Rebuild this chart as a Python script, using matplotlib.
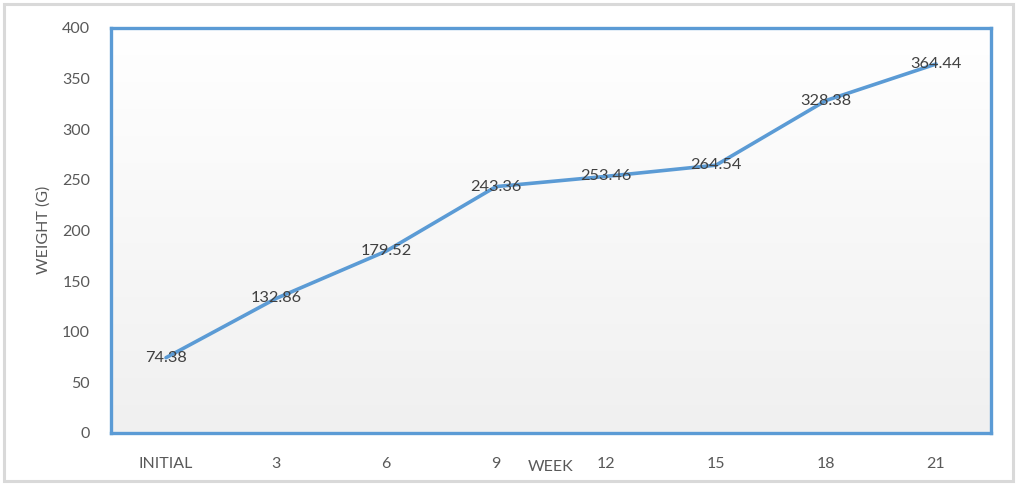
import matplotlib
matplotlib.use("Agg")
import matplotlib.pyplot as plt
import numpy as np
from matplotlib.patches import Rectangle

categories = ["INITIAL", "3", "6", "9", "12", "15", "18", "21"]
weights = [74.38, 132.86, 179.52, 243.36, 253.46, 264.54, 328.38, 364.44]
yticks = [0, 50, 100, 150, 200, 250, 300, 350, 400]

plt.rcParams['font.family'] = ['Lato', 'DejaVu Sans']
blue = "#5b9bd5"
txt = "#595959"

fig = plt.figure(figsize=(10.18, 4.84), dpi=100)
fig.patch.set_facecolor("white")
fig.patches.append(Rectangle((0.004, 0.006), 0.991, 0.986, transform=fig.transFigure,
                             fill=False, edgecolor="#d9d9d9", linewidth=2.2))

ax = fig.add_axes([111/1018, 51/484, 880/1018, 405/484])
x = np.arange(len(categories))
ax.set_xlim(-0.5, len(categories) - 0.5)
ax.set_ylim(0, 400)

grad = np.linspace(1.0, 0.0, 256).reshape(-1, 1)
ax.imshow(grad, extent=(-0.5, len(categories) - 0.5, 0, 400), aspect='auto',
          cmap=matplotlib.colors.LinearSegmentedColormap.from_list("g", ["#f0f0f0", "#ffffff"]),
          origin='upper', zorder=0)

ax.plot(x, weights, color=blue, linewidth=2.6, solid_capstyle='round', zorder=3)
for xi, w in zip(x, weights):
    ax.text(xi, w, f"{w:.2f}", ha='center', va='center', fontsize=11.8, color="#404040", zorder=4)

ax.set_xticks(x)
ax.set_xticklabels(categories)
ax.set_yticks(yticks)
ax.tick_params(axis='both', length=0, labelsize=11.5, labelcolor=txt)
ax.tick_params(axis='x', pad=17)
ax.tick_params(axis='y', pad=15)
for s in ax.spines.values():
    s.set_color(blue)
    s.set_linewidth(2.4)

fig.text(551/1018, 1 - 467/484, "WEEK", ha='center', va='center', fontsize=11.5, color=txt)
fig.text(44/1018, 1 - 230/484, "WEIGHT (G)", ha='center', va='center', rotation=90, fontsize=11.5, color=txt)

fig.savefig("out.png", dpi=100)
